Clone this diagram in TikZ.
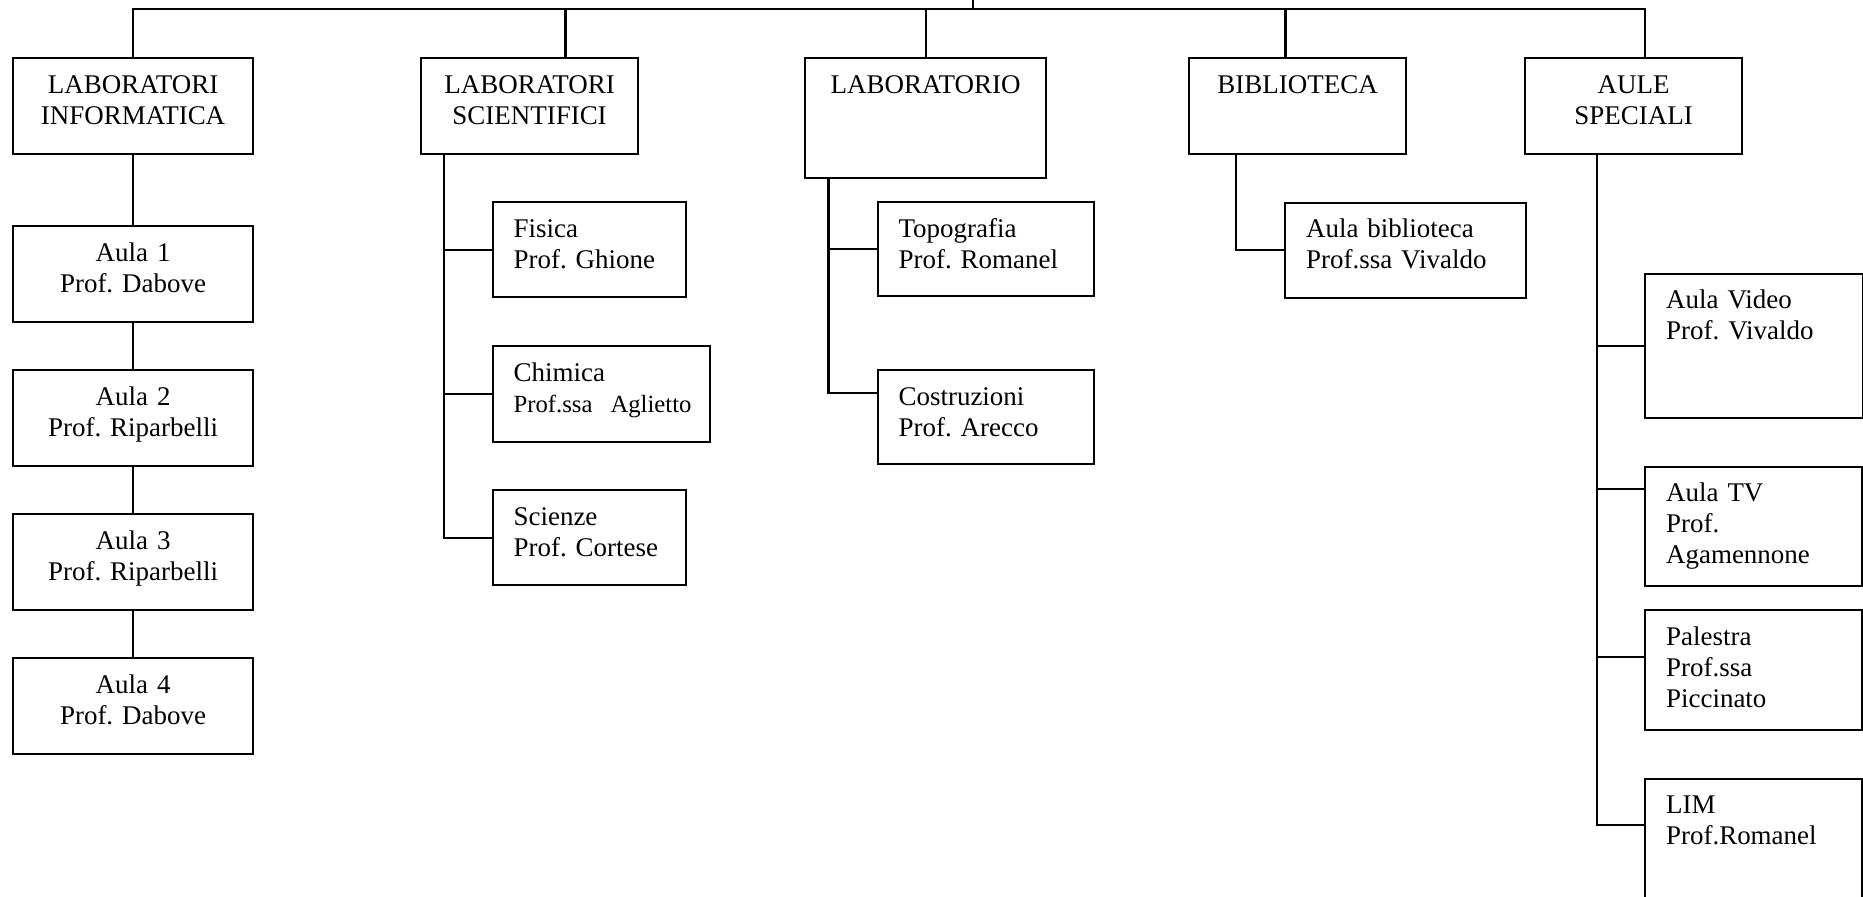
\documentclass[tikz,border=0pt]{standalone}
\usepackage{fontspec}
\setmainfont{Liberation Serif}
\frenchspacing

\tikzset{
  head/.style 2 args={draw, anchor=north west, inner xsep=4pt, inner ysep=0pt, align=center,
    text width={#1*0.445pt-8pt}, text height=15.6pt, text depth={#2*0.445pt-15.6pt},
    font=\fontsize{12}{13.8}\selectfont},
  room/.style 2 args={draw, anchor=north west, inner xsep=9.35pt, inner ysep=0pt, align=left,
    text width={#1*0.445pt-18.7pt}, text height=15.6pt, text depth={#2*0.445pt-15.6pt},
    font=\fontsize{12}{13.8}\selectfont}
}

\begin{document}
\begin{tikzpicture}[x=0.445pt, y=-0.445pt, line width=0.95pt]
        \useasboundingbox (0,0) rectangle (1863,896);
        \node[head={240}{96}]  (inf)  at (12,57)   {LABORATORI\\INFORMATICA};
        \node[head={217}{96}]  (sci)  at (420,57)  {LABORATORI\\SCIENTIFICI};
        \node[head={241}{120}] (lab)  at (804,57)  {LABORATORIO};
        \node[head={217}{96}]  (bib)  at (1188,57) {BIBLIOTECA};
        \node[head={217}{96}]  (aule) at (1524,57) {AULE\\SPECIALI};
        \node[head={240}{96}]  (a1)   at (12,225)  {Aula 1\\Prof. Dabove};
        \node[head={240}{96}]  (a2)   at (12,369)  {Aula 2\\Prof. Riparbelli};
        \node[head={240}{96}]  (a3)   at (12,513)  {Aula 3\\Prof. Riparbelli};
        \node[head={240}{96}]  (a4)   at (12,657)  {Aula 4\\Prof. Dabove};
        \node[room={193}{95}]  (fis)  at (491.5,201) {Fisica\\Prof. Ghione};
        \node[room={217.5}{96}] (chim) at (491.5,345) {Chimica\\\mbox{\fontsize{11}{13.8}\selectfont Prof.ssa\ \ Aglietto}};
        \node[room={193}{95}]  (scz)  at (491.5,489) {Scienze\\Prof. Cortese};
        \node[room={216}{94}]  (topo) at (876.5,201) {Topografia\\Prof. Romanel};
        \node[room={216}{94}]  (costr) at (876.5,369) {Costruzioni\\Prof. Arecco};
        \node[room={240.5}{95}] (abib) at (1284,201.5) {Aula biblioteca\\Prof.ssa Vivaldo};
        \node[room={217.5}{144}] (video) at (1644,272.7) {Aula Video\\Prof. Vivaldo};
        \node[room={217}{119}] (tv)   at (1644,465.5) {Aula TV\\Prof.\\Agamennone};
        \node[room={217}{120}] (pal)  at (1644,609.3) {Palestra\\Prof.ssa\\Piccinato};
        \node[room={217}{144}] (lim)  at (1644,777.7) {LIM\\Prof.Romanel};
        \coordinate (hub) at (972.8,9);
        \coordinate (up)  at (972.8,-20);
        \draw (up) -- (hub);
        \draw (inf.north) |- (hub);
        \draw ([xshift=16pt]sci.north) |- (hub);
        \draw (lab.north) |- (hub);
        \draw ([xshift=-5.35pt]bib.north) |- (hub);
        \draw ([xshift=5.25pt]aule.north) |- (hub);
        \draw (inf.south) -- (a1.north)
              (a1.south) -- (a2.north)
              (a2.south) -- (a3.north)
              (a3.south) -- (a4.north);
        \draw ([xshift=10.55pt]sci.south west) |- (fis.west)
              ([xshift=10.55pt]sci.south west) |- (chim.west)
              ([xshift=10.55pt]sci.south west) |- (scz.west);
        \draw ([xshift=10.9pt]lab.south west) |- (topo.west)
              ([xshift=10.9pt]lab.south west) |- ([yshift=-10.7pt]costr.north west);
        \draw ([xshift=21.4pt]bib.south west) |- (abib.west);
        \draw ([xshift=32.35pt]aule.south west) |- (video.west)
              ([xshift=32.35pt]aule.south west) |- ([yshift=-10.3pt]tv.north west)
              ([xshift=32.35pt]aule.south west) |- ([yshift=-21.2pt]pal.north west)
              ([xshift=32.35pt]aule.south west) |- ([yshift=-20.9pt]lim.north west);
\end{tikzpicture}
\end{document}
